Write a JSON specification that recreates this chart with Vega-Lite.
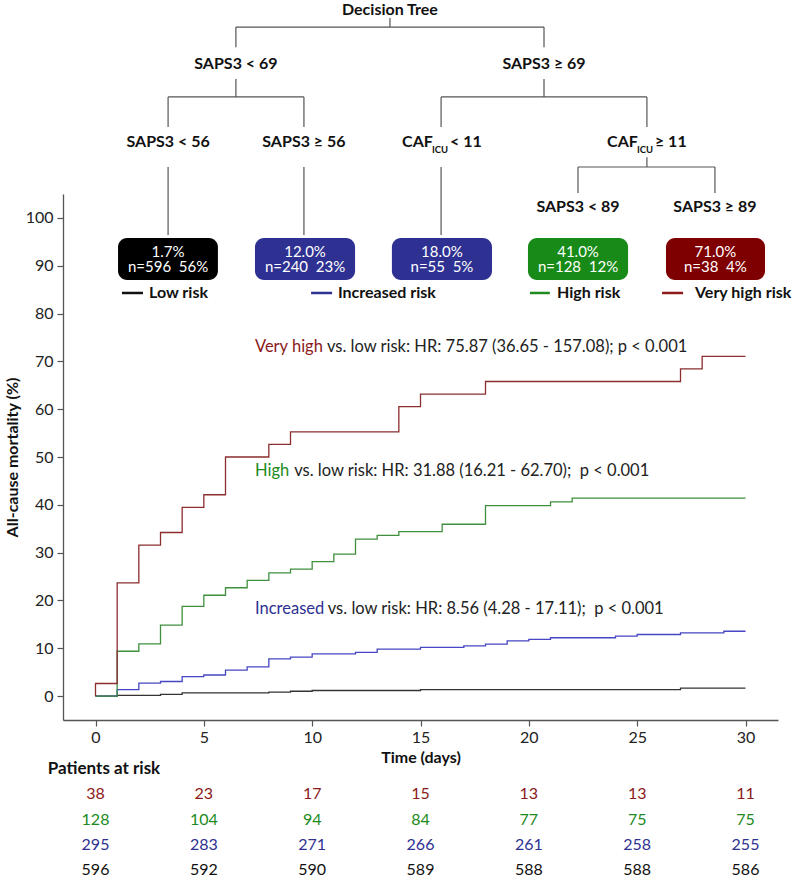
{
  "$schema": "https://vega.github.io/schema/vega-lite/v6.json",
  "width": 715,
  "height": 526,
  "autosize": {"type": "none"},
  "padding": {"left": 63, "top": 194, "right": 22, "bottom": 157},
  "background": "white",
  "config": {"view": {"stroke": null}, "font": "Lato", "text": {"font": "Lato"}},
  "datasets": {
    "km": [
      {"group": "Low", "x": 0, "y": 0}, {"group": "Low", "x": 1, "y": 0.17}, {"group": "Low", "x": 3, "y": 0.34}, {"group": "Low", "x": 4, "y": 0.67}, {"group": "Low", "x": 8, "y": 0.84}, {"group": "Low", "x": 9, "y": 1.01}, {"group": "Low", "x": 10, "y": 1.17}, {"group": "Low", "x": 15, "y": 1.34}, {"group": "Low", "x": 27, "y": 1.68}, {"group": "Low", "x": 30, "y": 1.68},
      {"group": "Increased", "x": 0, "y": 0}, {"group": "Increased", "x": 1, "y": 1.36}, {"group": "Increased", "x": 2, "y": 2.71}, {"group": "Increased", "x": 3, "y": 3.05}, {"group": "Increased", "x": 4, "y": 4.07}, {"group": "Increased", "x": 5, "y": 4.41}, {"group": "Increased", "x": 6, "y": 5.42}, {"group": "Increased", "x": 7, "y": 6.1}, {"group": "Increased", "x": 8, "y": 7.8}, {"group": "Increased", "x": 9, "y": 8.14}, {"group": "Increased", "x": 10, "y": 8.81}, {"group": "Increased", "x": 12, "y": 9.15}, {"group": "Increased", "x": 13, "y": 9.83}, {"group": "Increased", "x": 15, "y": 10.17}, {"group": "Increased", "x": 17, "y": 10.51}, {"group": "Increased", "x": 18, "y": 10.85}, {"group": "Increased", "x": 19, "y": 11.53}, {"group": "Increased", "x": 20, "y": 11.86}, {"group": "Increased", "x": 21, "y": 12.2}, {"group": "Increased", "x": 24, "y": 12.54}, {"group": "Increased", "x": 25, "y": 12.88}, {"group": "Increased", "x": 27, "y": 13.22}, {"group": "Increased", "x": 29, "y": 13.56}, {"group": "Increased", "x": 30, "y": 13.56},
      {"group": "High", "x": 0, "y": 0}, {"group": "High", "x": 1, "y": 9.38}, {"group": "High", "x": 2, "y": 10.94}, {"group": "High", "x": 3, "y": 14.84}, {"group": "High", "x": 4, "y": 18.75}, {"group": "High", "x": 5, "y": 21.09}, {"group": "High", "x": 6, "y": 22.66}, {"group": "High", "x": 7, "y": 24.22}, {"group": "High", "x": 8, "y": 25.78}, {"group": "High", "x": 9, "y": 26.56}, {"group": "High", "x": 10, "y": 28.13}, {"group": "High", "x": 11, "y": 29.69}, {"group": "High", "x": 12, "y": 32.81}, {"group": "High", "x": 13, "y": 33.59}, {"group": "High", "x": 14, "y": 34.38}, {"group": "High", "x": 16, "y": 35.94}, {"group": "High", "x": 18, "y": 39.84}, {"group": "High", "x": 21, "y": 40.63}, {"group": "High", "x": 22, "y": 41.41}, {"group": "High", "x": 30, "y": 41.41},
      {"group": "Very high", "x": 0, "y": 0}, {"group": "Very high", "x": 0, "y": 2.63}, {"group": "Very high", "x": 1, "y": 23.68}, {"group": "Very high", "x": 2, "y": 31.58}, {"group": "Very high", "x": 3, "y": 34.21}, {"group": "Very high", "x": 4, "y": 39.47}, {"group": "Very high", "x": 5, "y": 42.11}, {"group": "Very high", "x": 6, "y": 50.0}, {"group": "Very high", "x": 8, "y": 52.63}, {"group": "Very high", "x": 9, "y": 55.26}, {"group": "Very high", "x": 14, "y": 60.53}, {"group": "Very high", "x": 15, "y": 63.16}, {"group": "Very high", "x": 18, "y": 65.79}, {"group": "Very high", "x": 27, "y": 68.42}, {"group": "Very high", "x": 28, "y": 71.05}, {"group": "Very high", "x": 30, "y": 71.05}
    ],
    "edges": [
      {"x": 13.59, "y": 141.8, "x2": 13.59, "y2": 139.9},
      {"x": 6.48, "y": 139.9, "x2": 20.7, "y2": 139.9},
      {"x": 6.48, "y": 139.9, "x2": 6.48, "y2": 135.7},
      {"x": 20.7, "y": 139.9, "x2": 20.7, "y2": 135.7},
      {"x": 6.48, "y": 129.05, "x2": 6.48, "y2": 125.3},
      {"x": 3.35, "y": 125.3, "x2": 9.62, "y2": 125.3},
      {"x": 3.35, "y": 125.3, "x2": 3.35, "y2": 119.0},
      {"x": 9.62, "y": 125.3, "x2": 9.62, "y2": 119.0},
      {"x": 20.7, "y": 129.05, "x2": 20.7, "y2": 125.3},
      {"x": 15.95, "y": 125.3, "x2": 25.45, "y2": 125.3},
      {"x": 15.95, "y": 125.3, "x2": 15.95, "y2": 119.0},
      {"x": 25.45, "y": 125.3, "x2": 25.45, "y2": 119.0},
      {"x": 3.35, "y": 110.65, "x2": 3.35, "y2": 96.4},
      {"x": 9.62, "y": 110.65, "x2": 9.62, "y2": 96.4},
      {"x": 15.95, "y": 110.65, "x2": 15.95, "y2": 96.4},
      {"x": 25.45, "y": 112.7, "x2": 25.45, "y2": 110.65},
      {"x": 22.27, "y": 110.65, "x2": 28.59, "y2": 110.65},
      {"x": 22.27, "y": 110.65, "x2": 22.27, "y2": 105.2},
      {"x": 28.59, "y": 110.65, "x2": 28.59, "y2": 105.2}
    ],
    "nodes": [
      {"x": 13.59, "y": 143.4, "text": "Decision Tree"},
      {"x": 6.48, "y": 132.2, "text": "SAPS3 < 69"},
      {"x": 20.7, "y": 132.2, "text": "SAPS3 ≥ 69"},
      {"x": 3.35, "y": 115.9, "text": "SAPS3 < 56"},
      {"x": 9.62, "y": 115.9, "text": "SAPS3 ≥ 56"},
      {"x": 22.27, "y": 102.3, "text": "SAPS3 < 89"},
      {"x": 28.59, "y": 102.3, "text": "SAPS3 ≥ 89"}
    ],
    "cafparts": [
      {"x": 14.15, "y": 115.9, "text": "CAF"},
      {"x": 16.36, "y": 115.9, "text": "< 11"},
      {"x": 23.61, "y": 115.9, "text": "CAF"},
      {"x": 25.82, "y": 115.9, "text": "≥ 11"}
    ],
    "cafsub": [
      {"x": 15.53, "y": 114.2, "text": "ICU"},
      {"x": 24.99, "y": 114.2, "text": "ICU"}
    ],
    "boxes": [
      {"group": "Low", "x": 1.04, "x2": 5.65, "y": 87.0, "y2": 95.8},
      {"group": "Increased", "x": 7.36, "x2": 11.98, "y": 87.0, "y2": 95.8},
      {"group": "Increased", "x": 13.68, "x2": 18.3, "y": 87.0, "y2": 95.8},
      {"group": "High", "x": 19.96, "x2": 24.58, "y": 87.0, "y2": 95.8},
      {"group": "Very high", "x": 26.33, "x2": 30.9, "y": 87.0, "y2": 95.8}
    ],
    "boxtext": [
      {"x": 3.35, "y": 91.3, "pct": "1.7%", "n": "n=596\u00a0 56%"},
      {"x": 9.67, "y": 91.3, "pct": "12.0%", "n": "n=240\u00a0 23%"},
      {"x": 15.99, "y": 91.3, "pct": "18.0%", "n": "n=55\u00a0 5%"},
      {"x": 22.27, "y": 91.3, "pct": "41.0%", "n": "n=128\u00a0 12%"},
      {"x": 28.61, "y": 91.3, "pct": "71.0%", "n": "n=38\u00a0 4%"}
    ],
    "legendlines": [
      {"group": "Low", "x": 1.22, "x2": 2.19, "y": 84.3},
      {"group": "Increased", "x": 9.95, "x2": 10.92, "y": 84.3},
      {"group": "High", "x": 20.05, "x2": 20.97, "y": 84.3},
      {"group": "Very high", "x": 26.15, "x2": 27.12, "y": 84.3}
    ],
    "legendtext": [
      {"x": 2.47, "y": 84.3, "text": "Low risk"},
      {"x": 11.19, "y": 84.3, "text": "Increased risk"},
      {"x": 21.3, "y": 84.3, "text": "High risk"},
      {"x": 27.67, "y": 84.3, "text": "Very high risk"}
    ],
    "hrword": [
      {"group": "Very high", "x": 7.36, "y": 73.06, "text": "Very high"},
      {"group": "High", "x": 7.36, "y": 47.07, "text": "High"},
      {"group": "Increased", "x": 7.36, "y": 18.15, "text": "Increased"}
    ],
    "hrrest": [
      {"x": 10.68, "y": 73.06, "text": "vs. low risk: HR: 75.87 (36.65 - 157.08); p < 0.001"},
      {"x": 9.17, "y": 47.07, "text": "vs. low risk: HR: 31.88 (16.21 - 62.70);\u00a0 p < 0.001"},
      {"x": 10.72, "y": 18.15, "text": "vs. low risk: HR: 8.56 (4.28 - 17.11);\u00a0 p < 0.001"}
    ],
    "risk": [
      {"group": "Very high", "x": 0, "n": 38}, {"group": "Very high", "x": 5, "n": 23}, {"group": "Very high", "x": 10, "n": 17}, {"group": "Very high", "x": 15, "n": 15}, {"group": "Very high", "x": 20, "n": 13}, {"group": "Very high", "x": 25, "n": 13}, {"group": "Very high", "x": 30, "n": 11},
      {"group": "High", "x": 0, "n": 128}, {"group": "High", "x": 5, "n": 104}, {"group": "High", "x": 10, "n": 94}, {"group": "High", "x": 15, "n": 84}, {"group": "High", "x": 20, "n": 77}, {"group": "High", "x": 25, "n": 75}, {"group": "High", "x": 30, "n": 75},
      {"group": "Increased", "x": 0, "n": 295}, {"group": "Increased", "x": 5, "n": 283}, {"group": "Increased", "x": 10, "n": 271}, {"group": "Increased", "x": 15, "n": 266}, {"group": "Increased", "x": 20, "n": 261}, {"group": "Increased", "x": 25, "n": 258}, {"group": "Increased", "x": 30, "n": 255},
      {"group": "Low", "x": 0, "n": 596}, {"group": "Low", "x": 5, "n": 592}, {"group": "Low", "x": 10, "n": 590}, {"group": "Low", "x": 15, "n": 589}, {"group": "Low", "x": 20, "n": 588}, {"group": "Low", "x": 25, "n": 588}, {"group": "Low", "x": 30, "n": 586}
    ],
    "riskheader": [
      {"group": "header", "x": -2.2, "label": "Patients at risk"}
    ]
  },
  "encoding": {
    "x": {
      "field": "x", "type": "quantitative",
      "scale": {"domain": [-1.5, 31.5], "nice": false, "zero": false},
      "axis": {
        "title": "Time (days)", "values": [0, 5, 10, 15, 20, 25, 30], "grid": false,
        "domainColor": "#555555", "domainWidth": 1.3, "tickColor": "#555555", "tickWidth": 1.2, "tickSize": 6,
        "labelFont": "Lato", "labelFontSize": 16, "labelColor": "#222222", "labelPadding": 3,
        "titleFont": "Lato", "titleFontSize": 16, "titleFontWeight": "bold", "titleColor": "#111111", "titlePadding": 4
      }
    }
  },
  "layer": [
    {
      "encoding": {
        "y": {
          "field": "y", "type": "quantitative",
          "scale": {"domain": [-5, 105], "nice": false, "zero": false},
          "axis": {
            "title": "All-cause mortality (%)", "values": [0, 10, 20, 30, 40, 50, 60, 70, 80, 90, 100], "grid": false,
            "domainColor": "#555555", "domainWidth": 1.3, "tickColor": "#555555", "tickWidth": 1.2, "tickSize": 6,
            "labelFont": "Lato", "labelFontSize": 16, "labelColor": "#222222", "labelPadding": 4,
            "titleFont": "Lato", "titleFontSize": 16, "titleFontWeight": "bold", "titleColor": "#111111", "titlePadding": 5
          }
        }
      },
      "layer": [
        {
          "data": {"name": "km"},
          "mark": {"type": "line", "interpolate": "step-after", "strokeWidth": 1.3},
          "encoding": {
            "stroke": {"field": "group", "type": "nominal", "legend": null,
              "scale": {"domain": ["Low", "Increased", "High", "Very high"], "range": ["#333333", "#4646c4", "#3f8f3f", "#8c2e2e"]}},
            "detail": {"field": "group"}
          }
        },
        {
          "data": {"name": "edges"},
          "mark": {"type": "rule", "color": "#555555", "strokeWidth": 1.2},
          "encoding": {"x2": {"field": "x2"}, "y2": {"field": "y2"}}
        },
        {
          "data": {"name": "nodes"},
          "mark": {"type": "text", "align": "center", "baseline": "middle", "font": "Lato", "fontSize": 16, "fontWeight": "bold", "color": "#111111"},
          "encoding": {"text": {"field": "text"}}
        },
        {
          "data": {"name": "cafparts"},
          "mark": {"type": "text", "align": "left", "baseline": "middle", "font": "Lato", "fontSize": 16, "fontWeight": "bold", "color": "#111111"},
          "encoding": {"text": {"field": "text"}}
        },
        {
          "data": {"name": "cafsub"},
          "mark": {"type": "text", "align": "left", "baseline": "middle", "font": "Lato", "fontSize": 9.5, "fontWeight": "bold", "color": "#111111"},
          "encoding": {"text": {"field": "text"}}
        },
        {
          "data": {"name": "boxes"},
          "mark": {"type": "rect", "cornerRadius": 9},
          "encoding": {
            "x2": {"field": "x2"}, "y2": {"field": "y2"},
            "fill": {"field": "group", "type": "nominal", "legend": null,
              "scale": {"domain": ["Low", "Increased", "High", "Very high"], "range": ["#000000", "#2e3192", "#178a17", "#7f0000"]}}
          }
        },
        {
          "data": {"name": "boxtext"},
          "mark": {"type": "text", "align": "center", "baseline": "middle", "dy": -7.5, "font": "Lato", "fontSize": 15, "color": "#ffffff"},
          "encoding": {"text": {"field": "pct"}}
        },
        {
          "data": {"name": "boxtext"},
          "mark": {"type": "text", "align": "center", "baseline": "middle", "dy": 7.5, "font": "Lato", "fontSize": 15, "color": "#ffffff"},
          "encoding": {"text": {"field": "n"}}
        },
        {
          "data": {"name": "legendlines"},
          "mark": {"type": "rule", "strokeWidth": 2.5},
          "encoding": {
            "x2": {"field": "x2"},
            "color": {"field": "group", "type": "nominal", "legend": null,
              "scale": {"domain": ["Low", "Increased", "High", "Very high", "header"], "range": ["#111111", "#2e3192", "#208a20", "#8b1a1a", "#111111"]}}
          }
        },
        {
          "data": {"name": "legendtext"},
          "mark": {"type": "text", "align": "left", "baseline": "middle", "font": "Lato", "fontSize": 16, "fontWeight": "bold", "color": "#111111"},
          "encoding": {"text": {"field": "text"}}
        },
        {
          "data": {"name": "hrword"},
          "mark": {"type": "text", "align": "left", "baseline": "middle", "font": "Lato", "fontSize": 16.5},
          "encoding": {
            "text": {"field": "text"},
            "color": {"field": "group", "type": "nominal", "legend": null,
              "scale": {"domain": ["Low", "Increased", "High", "Very high", "header"], "range": ["#111111", "#2e3192", "#208a20", "#8b1a1a", "#111111"]}}
          }
        },
        {
          "data": {"name": "hrrest"},
          "mark": {"type": "text", "align": "left", "baseline": "middle", "font": "Lato", "fontSize": 16.5, "color": "#222222"},
          "encoding": {"text": {"field": "text"}}
        }
      ]
    },
    {
      "encoding": {
        "y": {"field": "group", "type": "nominal", "axis": null,
          "scale": {"type": "point", "domain": ["header", "Very high", "High", "Increased", "Low"], "range": [575, 676], "padding": 0}},
        "color": {"field": "group", "type": "nominal", "legend": null,
          "scale": {"domain": ["Low", "Increased", "High", "Very high", "header"], "range": ["#111111", "#2e3192", "#208a20", "#8b1a1a", "#111111"]}}
      },
      "layer": [
        {
          "data": {"name": "risk"},
          "mark": {"type": "text", "align": "center", "baseline": "middle", "font": "Lato", "fontSize": 16},
          "encoding": {"text": {"field": "n", "type": "quantitative"}}
        },
        {
          "data": {"name": "riskheader"},
          "mark": {"type": "text", "align": "left", "baseline": "middle", "font": "Lato", "fontSize": 17, "fontWeight": "bold"},
          "encoding": {"text": {"field": "label"}}
        }
      ]
    }
  ],
  "resolve": {"scale": {"y": "independent"}}
}
